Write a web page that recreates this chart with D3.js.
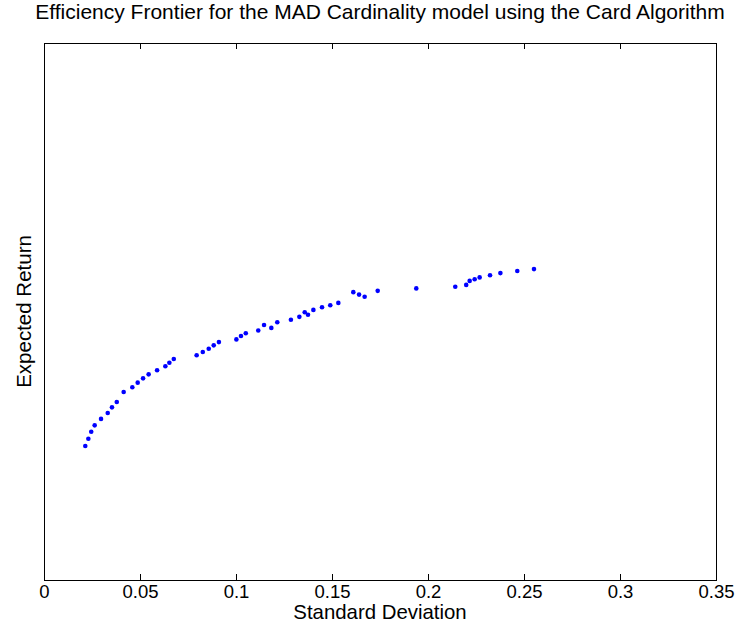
<!DOCTYPE html>
<html>
<head>
	<meta charset="utf-8">
	<style>
		body { margin: 0; background: #fff; }
		svg { display: block; }
		text { font-family: "Liberation Sans", Arial, sans-serif; fill: #000; }
	</style>
</head>
<body>
	<script src="https://cdn.jsdelivr.net/npm/d3@7"></script>
	<script>
	// standard deviation of each frontier portfolio
	var stdDev = [0.0215, 0.0231, 0.0246, 0.0264, 0.0297, 0.0332, 0.0354, 0.0379, 0.0415, 0.0460,
		0.0488, 0.0516, 0.0545, 0.0589, 0.0632, 0.0653, 0.0676, 0.0795, 0.0827, 0.0858,
		0.0884, 0.0911, 0.1002, 0.1026, 0.1051, 0.1116, 0.1146, 0.1184, 0.1215, 0.1286,
		0.1330, 0.1358, 0.1375, 0.1403, 0.1448, 0.1491, 0.1533, 0.1611, 0.1641, 0.1670,
		0.1738, 0.1939, 0.2142, 0.2199, 0.2217, 0.2243, 0.2269, 0.2323, 0.2377, 0.2465,
		0.2552];
	// expected return (y axis has no tick labels in the original)
	var expReturn = [0.00499, 0.00526, 0.00552, 0.00576, 0.00600, 0.00622, 0.00643, 0.00663, 0.00700, 0.00718,
		0.00735, 0.00751, 0.00766, 0.00781, 0.00796, 0.00809, 0.00823, 0.00837, 0.00849, 0.00861,
		0.00874, 0.00886, 0.00896, 0.00909, 0.00919, 0.00929, 0.00950, 0.00939, 0.00960, 0.00969,
		0.00980, 0.00997, 0.00988, 0.01006, 0.01016, 0.01023, 0.01032, 0.01072, 0.01063, 0.01055,
		0.01077, 0.01086, 0.01092, 0.01099, 0.01114, 0.01120, 0.01127, 0.01135, 0.01143, 0.01151,
		0.01158];
	var xTicks = [0, 0.05, 0.1, 0.15, 0.2, 0.25, 0.3, 0.35];
	var xTickLabels = ["0", "0.05", "0.1", "0.15", "0.2", "0.25", "0.3", "0.35"];

	(function() {
		var W = 740, H = 627;
		// axes box in pixels (careful: "top" is a reserved window prop)
		var mLeft = 44, mRight = 716, mTop = 43, mBottom = 580;

		var svg = d3.select("body").append("svg")
			.attr("width", W)
			.attr("height", H);

		var x = d3.scaleLinear().domain([0, 0.35]).range([mLeft, mRight]);
		var y = d3.scaleLinear().domain([0, 0.02]).range([mBottom, mTop]);

		// bottom axis, ticks pointing inward
		var xAxis = d3.axisBottom(x)
			.tickValues(xTicks)
			.tickFormat(function(d, i) { return xTickLabels[i]; })
			.tickSizeInner(-6)
			.tickSizeOuter(0)
			.tickPadding(5);
		var gx = svg.append("g")
			.attr("transform", "translate(0," + mBottom + ")")
			.call(xAxis);
		gx.select(".domain").remove();
		gx.selectAll("text")
			.attr("font-size", 18.5)
			.attr("font-family", "Liberation Sans, Arial, sans-serif");
		gx.selectAll("line").attr("stroke", "#000");

		// top axis, ticks only
		var gxTop = svg.append("g")
			.attr("transform", "translate(0," + mTop + ")")
			.call(d3.axisTop(x).tickValues(xTicks).tickSizeInner(-6).tickSizeOuter(0).tickFormat(""));
		gxTop.select(".domain").remove();
		gxTop.selectAll("line").attr("stroke", "#000");

		// box
		svg.append("rect")
			.attr("x", mLeft + 0.5)
			.attr("y", mTop + 0.5)
			.attr("width", mRight - mLeft)
			.attr("height", mBottom - mTop)
			.attr("fill", "none")
			.attr("stroke", "#000")
			.attr("stroke-width", 1);

		// frontier points
		svg.selectAll("circle.pt")
			.data(d3.range(stdDev.length))
			.enter().append("circle")
			.attr("class", "pt")
			.attr("cx", function(i) { return x(stdDev[i]); })
			.attr("cy", function(i) { return y(expReturn[i]); })
			.attr("r", 2.3)
			.attr("fill", "#0000ff");

		// labels
		svg.append("text")
			.attr("x", (mLeft + mRight) / 2)
			.attr("y", 19)
			.attr("text-anchor", "middle")
			.attr("font-size", 21)
			.text("Efficiency Frontier for the MAD Cardinality model using the Card Algorithm");

		svg.append("text")
			.attr("x", (mLeft + mRight) / 2)
			.attr("y", 619)
			.attr("text-anchor", "middle")
			.attr("font-size", 20.4)
			.text("Standard Deviation");

		svg.append("text")
			.attr("transform", "translate(31," + ((mTop + mBottom) / 2) + ") rotate(-90)")
			.attr("text-anchor", "middle")
			.attr("font-size", 20.5)
			.text("Expected Return");
	})();
	</script>
</body>
</html>
